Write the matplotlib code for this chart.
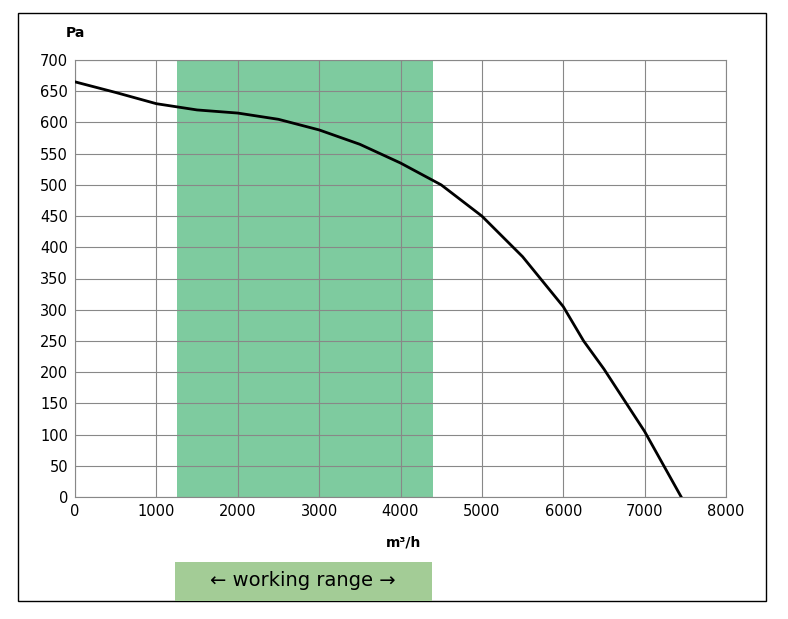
import matplotlib
matplotlib.use("Agg")
import matplotlib.pyplot as plt
from matplotlib.patches import Rectangle

flow = [0, 500, 1000, 1500, 2000, 2500, 3000, 3500, 4000, 4500, 5000, 5500, 6000, 6250, 6500, 7000, 7450]
pressure = [665, 648, 630, 620, 615, 605, 588, 565, 535, 500, 450, 385, 305, 250, 205, 105, 0]
range_lo, range_hi = 1250, 4400

W, H = 788, 619
fig = plt.figure(figsize=(W/100, H/100), dpi=100)
ax = fig.add_axes([75/W, 1-497/H, (726-75)/W, (497-60)/H])
ax.axvspan(range_lo, range_hi, color="#7ecb9f", zorder=0, lw=0)
ax.plot(flow, pressure, color="black", lw=2, zorder=3)
ax.set_xlim(0, 8000); ax.set_ylim(0, 700)
ax.set_xticks(range(0, 8001, 1000)); ax.set_yticks(range(0, 701, 50))
ax.grid(color="#888888", lw=0.8, zorder=1)
ax.set_axisbelow(True)
for s in ax.spines.values(): s.set_color("#888888")
ax.tick_params(labelsize=10.5, length=0, pad=5)
fig.text(66/W, 1-33/H, "Pa", fontsize=10, fontweight="bold", va="center")
fig.text(404/W, 1-543/H, "m³/h", fontsize=10, fontweight="bold", ha="center", va="center")
# outer frame
fig.add_artist(Rectangle((18/W, 1-601/H), (766-18)/W, (601-13)/H, transform=fig.transFigure, fill=False, ec="black", lw=1))
fig.add_artist(Rectangle((175/W, 1-601/H), (432-175)/W, (601-562)/H, transform=fig.transFigure, fc="#a3cc96", ec="none"))
fig.text(303/W, 1-581/H, "\u2190 working range \u2192", fontsize=14, ha="center", va="center")
fig.savefig("out.png", dpi=100)
